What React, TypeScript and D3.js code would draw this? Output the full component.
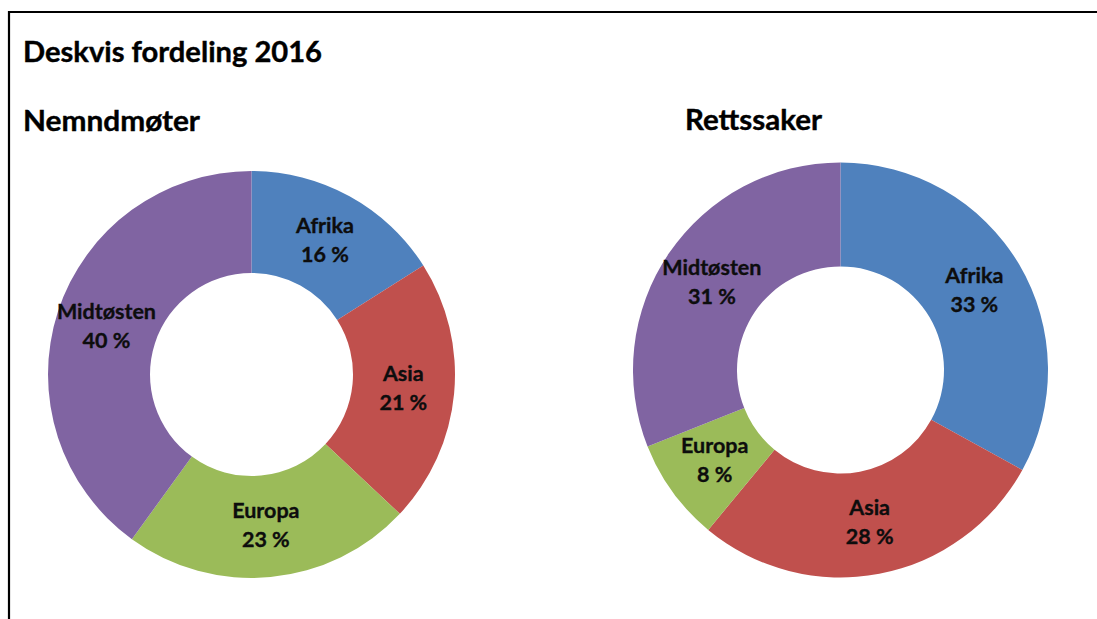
import React, {useEffect, useRef} from 'react';
import * as d3 from 'd3';

const regions = ["Afrika", "Asia", "Europa", "Midtøsten"];
const nemndValues = [16, 21, 23, 40];
const rettValues = [33, 28, 8, 31];
const colors = ["#4F81BD", "#C0504D", "#9BBB59", "#8064A2"];
const chartTitle = "Deskvis fordeling 2016";
const leftTitle = "Nemndmøter";
const rightTitle = "Rettssaker";

const font = "Lato, 'Open Sans', sans-serif";

function drawDonut(svg, values, cx, cy, outer, inner) {
    const pie = d3.pie().sort(null).value(d => d)(values);
    const arc = d3.arc().innerRadius(inner).outerRadius(outer);

    const g = svg.append('g').attr('transform', `translate(${cx}, ${cy})`);

    g.selectAll('path')
        .data(pie)
        .join('path')
        .attr('d', arc)
        .attr('fill', (d, i) => colors[i]);

    // two-line labels at the centroid of each slice
    const labels = g.selectAll('text.lbl')
        .data(pie)
        .join('text')
        .attr('class', 'lbl')
        .attr('text-anchor', 'middle')
        .style('font-family', font)
        .style('font-weight', 'bold')
        .style('font-size', '21.5px')
        .attr('fill', '#0d0d0d')
        .attr('stroke', '#0d0d0d')
        .attr('stroke-width', 0.35);

    labels.append('tspan')
        .attr('x', d => arc.centroid(d)[0])
        .attr('y', d => arc.centroid(d)[1] - 8)
        .text((d, i) => regions[i]);

    labels.append('tspan')
        .attr('x', d => arc.centroid(d)[0])
        .attr('y', d => arc.centroid(d)[1] + 21)
        .text(d => `${d.data} %`);
}

function DonutPanel({width, height}) {
    const svgRef = useRef();

    useEffect(() => {
        const svg = d3.select(svgRef.current);
        svg.selectAll("*").remove();

        svg.attr('width', width).attr('height', height);

        svg.append('rect')
            .attr('width', width)
            .attr('height', height)
            .attr('fill', '#fff');

        // frame: only top and left edges are inside the picture
        svg.append('path')
            .attr('d', `M${width + 10},12 H9 V${height + 10}`)
            .attr('fill', 'none')
            .attr('stroke', '#000')
            .attr('stroke-width', 2.2);

        const heading = (txt, x, y, len) => svg.append('text')
            .attr('x', x)
            .attr('y', y)
            .attr('textLength', len)
            .attr('lengthAdjust', 'spacingAndGlyphs')
            .style('font-family', font)
            .style('font-weight', 'bold')
            .style('font-size', '29px')
            .attr('stroke', '#000')
            .attr('stroke-width', 0.4)
            .text(txt);

        heading(chartTitle, 23, 62, 299);
        heading(leftTitle, 23, 131, 177);
        heading(rightTitle, 685, 130, 137);

        drawDonut(svg, nemndValues, 251.5, 374.5, 203.5, 101.5);
        drawDonut(svg, rettValues, 840.5, 370, 207.5, 103.5);
    }, [width, height]);

    return <svg ref={svgRef} style={{position: 'absolute', left: 0, top: 0, overflow: 'hidden'}}/>;
}

export default function App() {
    return <DonutPanel width={1097} height={619}/>;
}
